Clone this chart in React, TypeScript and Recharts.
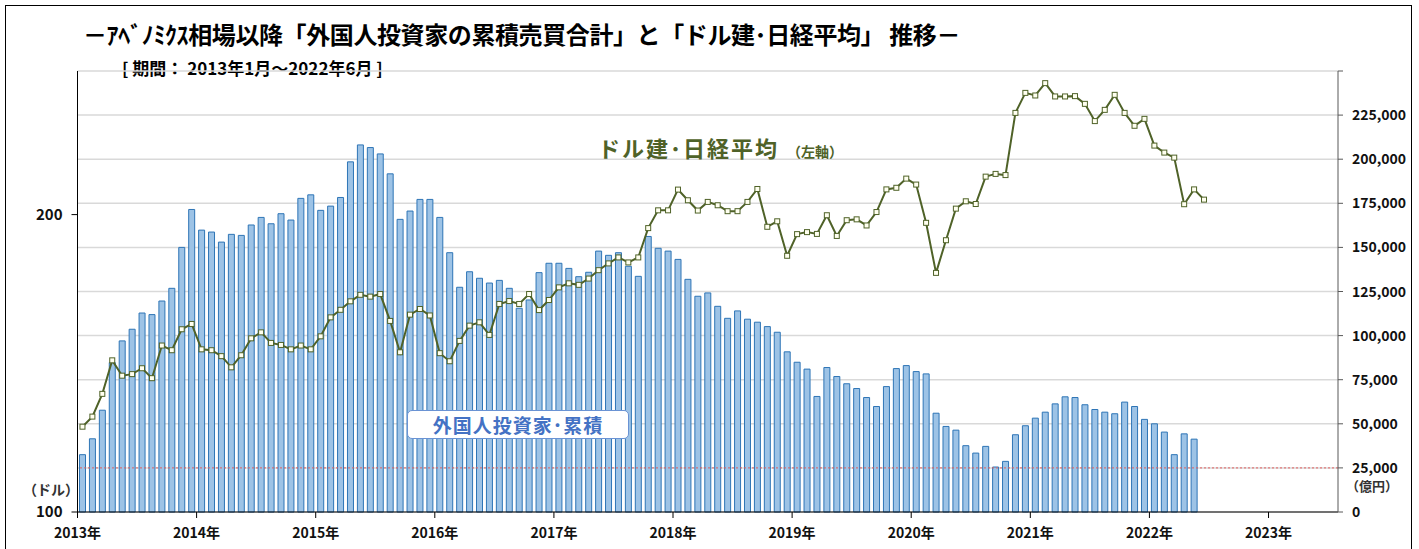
import React from 'react'
import { ComposedChart, Bar, Line, XAxis, YAxis, CartesianGrid, ReferenceLine } from 'recharts'

// months from 2013-01 (x axis runs to mid 2023, data stops 2022)
const months: string[] = []
for (let i = 0; i < 114; i++) {
    months.push(`${2013 + Math.floor(i / 12)}年${(i % 12) + 1}月`)
}

const yearTicks = [0, 12, 24, 36, 48, 60, 72, 84, 96, 108, 120]
const yearLabels = ['2013年', '2014年', '2015年', '2016年', '2017年', '2018年', '2019年', '2020年', '2021年', '2022年', '2023年']

// 外国人投資家・累積 (億円) - 2013/1 ~ 2022/5
const foreignCum = [
    32500, 41500, 57700, 84700, 97000, 103600, 112800, 111900, 119600, 126800, 150000, 171500,
    159800, 158700, 153000, 157400, 156800, 162700, 167000, 163400, 169100, 165500, 177800, 179800,
    171000, 173400, 178300, 198500, 208100, 206600, 203000, 191700, 165900, 170600, 177200, 177200,
    167000, 147000, 127400, 136200, 132500, 129800, 131300, 126800, 115500, 120200, 135700, 141000,
    141000, 138100, 133400, 135900, 147900, 145500, 147000, 139300, 133600, 156200, 149500, 147900,
    143200, 131900, 122300, 124200, 116600, 109800, 114000, 109300, 107600, 105100, 101900, 90800,
    84900, 81000, 65500, 81900, 76800, 72700, 70000, 64900, 59800, 71100, 81300, 83000,
    79600, 78300, 56000, 48500, 46400, 37600, 33400, 37200, 25500, 28700, 43800, 48900,
    53200, 56600, 61300, 65300, 64900, 60800, 58100, 56600, 55700, 62300, 59800, 52500,
    50000, 45300, 32500, 44300, 41300,
]

// ドル建・日経平均 (ドル) - 2013/1 ~ 2022/6
const nikkeiUsd = [
    122.0, 124.9, 131.7, 142.4, 137.4, 137.9, 139.8, 136.6, 147.4, 145.8, 153.1, 155.0,
    146.1, 145.8, 143.8, 140.1, 144.1, 149.9, 152.0, 148.3, 147.6, 146.1, 147.4, 146.1,
    150.6, 157.4, 160.2, 163.4, 165.9, 165.2, 166.2, 156.1, 145.1, 158.4, 160.5, 158.1,
    144.8, 142.1, 149.0, 154.4, 155.6, 151.1, 162.4, 163.5, 162.4, 166.2, 160.1, 163.9,
    168.8, 170.4, 169.8, 172.3, 175.7, 178.5, 181.0, 178.9, 181.0, 193.8, 202.0, 202.0,
    212.0, 206.8, 201.9, 206.0, 204.4, 201.6, 201.6, 206.0, 212.3, 194.4, 196.9, 181.7,
    191.1, 192.0, 191.2, 199.7, 190.3, 197.4, 197.8, 195.0, 201.2, 212.1, 212.9, 217.5,
    214.5, 196.2, 174.6, 188.4, 202.8, 206.3, 205.0, 218.5, 219.9, 219.3, 253.5, 265.6,
    264.0, 271.7, 263.4, 263.4, 263.6, 258.9, 248.7, 255.3, 264.4, 253.5, 246.0, 250.0,
    234.9, 231.1, 228.4, 204.9, 212.1, 207.1,
]

const rightTicks = [0, 25000, 50000, 75000, 100000, 125000, 150000, 175000, 200000, 225000, 250000]
const leftTicks = [100, 200]

const chartData = months.map((m, i) => ({
    x: i + 0.5,
    month: m,
    foreign: i < foreignCum.length ? foreignCum[i] : null,
    nikkei: nikkeiUsd[i],
}))

const FONT = '"Noto Sans CJK JP", "Noto Sans", sans-serif'

const SquareDot = (props: any) => {
    const { cx, cy, index } = props
    if (cx == null || cy == null) return null
    return <rect key={index} x={cx - 2.5} y={cy - 2.5} width={5} height={5} fill="#fffff0" stroke="#4f6228" strokeWidth={1} />
}

const RightTick = (props: any) => {
    const { x, y, payload } = props
    if (payload.value === 250000) return null
    return (
        <text x={x} y={y} dy={5} textAnchor="start" fontSize={14} fontWeight="bold" fill="#111" fontFamily={FONT}>
            {payload.value.toLocaleString('en-US')}
        </text>
    )
}

export default function App() {
    return (
        <div style={{ position: 'absolute', left: 5, top: 5, width: 1405, height: 545, border: '1px solid #000', background: '#fff', fontFamily: FONT }}>
            <div style={{ position: 'absolute', left: 77, top: 16, fontSize: 24, fontWeight: 'bold', lineHeight: 1, whiteSpace: 'nowrap', color: '#000', letterSpacing: -0.4 }}>
                －ｱﾍﾞﾉﾐｸｽ相場以降「外国人投資家の累積売買合計」と「ドル建･日経平均」 推移－
            </div>
            <div style={{ position: 'absolute', left: 116, top: 53, fontSize: 17, fontWeight: 'bold', lineHeight: 1, whiteSpace: 'nowrap', color: '#000' }}>
                [ 期間： 2013年1月～2022年6月 ]
            </div>

            <ComposedChart width={1405} height={545} data={chartData} margin={{ top: 65, right: 3, left: 11.5, bottom: 9 }}>
                <CartesianGrid yAxisId="right" vertical={false} stroke="#d9d9d9" strokeWidth={1.5} horizontalValues={rightTicks} />
                <XAxis
                    dataKey="x"
                    type="number"
                    domain={[0, 127]}
                    ticks={yearTicks}
                    tickFormatter={(v: number) => yearLabels[yearTicks.indexOf(v)]}
                    stroke="#000"
                    tick={{ fontSize: 14, fontWeight: 'bold', fill: '#111', fontFamily: FONT }}
                    tickSize={6}
                    tickMargin={10}
                    height={30}
                    allowDataOverflow
                />
                <YAxis
                    yAxisId="left"
                    orientation="left"
                    scale="log"
                    domain={[100, 279.5]}
                    ticks={leftTicks}
                    allowDataOverflow
                    width={60}
                    stroke="#000"
                    tick={{ fontSize: 15, fontWeight: 'bold', fill: '#111', fontFamily: FONT }}
                    tickSize={6}
                    tickMargin={9}
                />
                <YAxis
                    yAxisId="right"
                    orientation="right"
                    domain={[0, 250000]}
                    ticks={rightTicks}
                    width={70}
                    stroke="#595959"
                    tick={<RightTick />}
                    tickSize={5}
                    tickMargin={9}
                />
                <ReferenceLine yAxisId="right" y={25000} stroke="#e06060" strokeDasharray="2 2" strokeWidth={1} />
                <Bar yAxisId="right" dataKey="foreign" barSize={6} fill="#9dc3e6" stroke="#2e75b6" strokeWidth={1} isAnimationActive={false} />
                <Line
                    yAxisId="left"
                    type="linear"
                    dataKey="nikkei"
                    stroke="#4f6228"
                    strokeWidth={2}
                    dot={<SquareDot />}
                    activeDot={false}
                    isAnimationActive={false}
                />
            </ComposedChart>

            <div style={{ position: 'absolute', left: 592, top: 130, fontSize: 22, fontWeight: 'bold', lineHeight: 1, whiteSpace: 'nowrap', color: '#4f6228', letterSpacing: 2 }}>
                ドル建･日経平均<span style={{ fontSize: 14, marginLeft: 8, letterSpacing: 0 }}>（左軸）</span>
            </div>
            <div style={{ position: 'absolute', left: 401, top: 404, width: 222, height: 29, boxSizing: 'border-box', border: '1px solid #6a93d4', borderRadius: 5, background: '#fff', color: '#4472c4', fontSize: 19, fontWeight: 'bold', lineHeight: '27px', textAlign: 'center', letterSpacing: 1 }}>
                外国人投資家･累積
            </div>
            <div style={{ position: 'absolute', left: 17, top: 476, fontSize: 14, fontWeight: 'bold', lineHeight: 1, color: '#333' }}>（ドル）</div>
            <div style={{ position: 'absolute', left: 1340, top: 473, fontSize: 13, fontWeight: 'bold', lineHeight: 1, color: '#333' }}>（億円）</div>
        </div>
    )
}
